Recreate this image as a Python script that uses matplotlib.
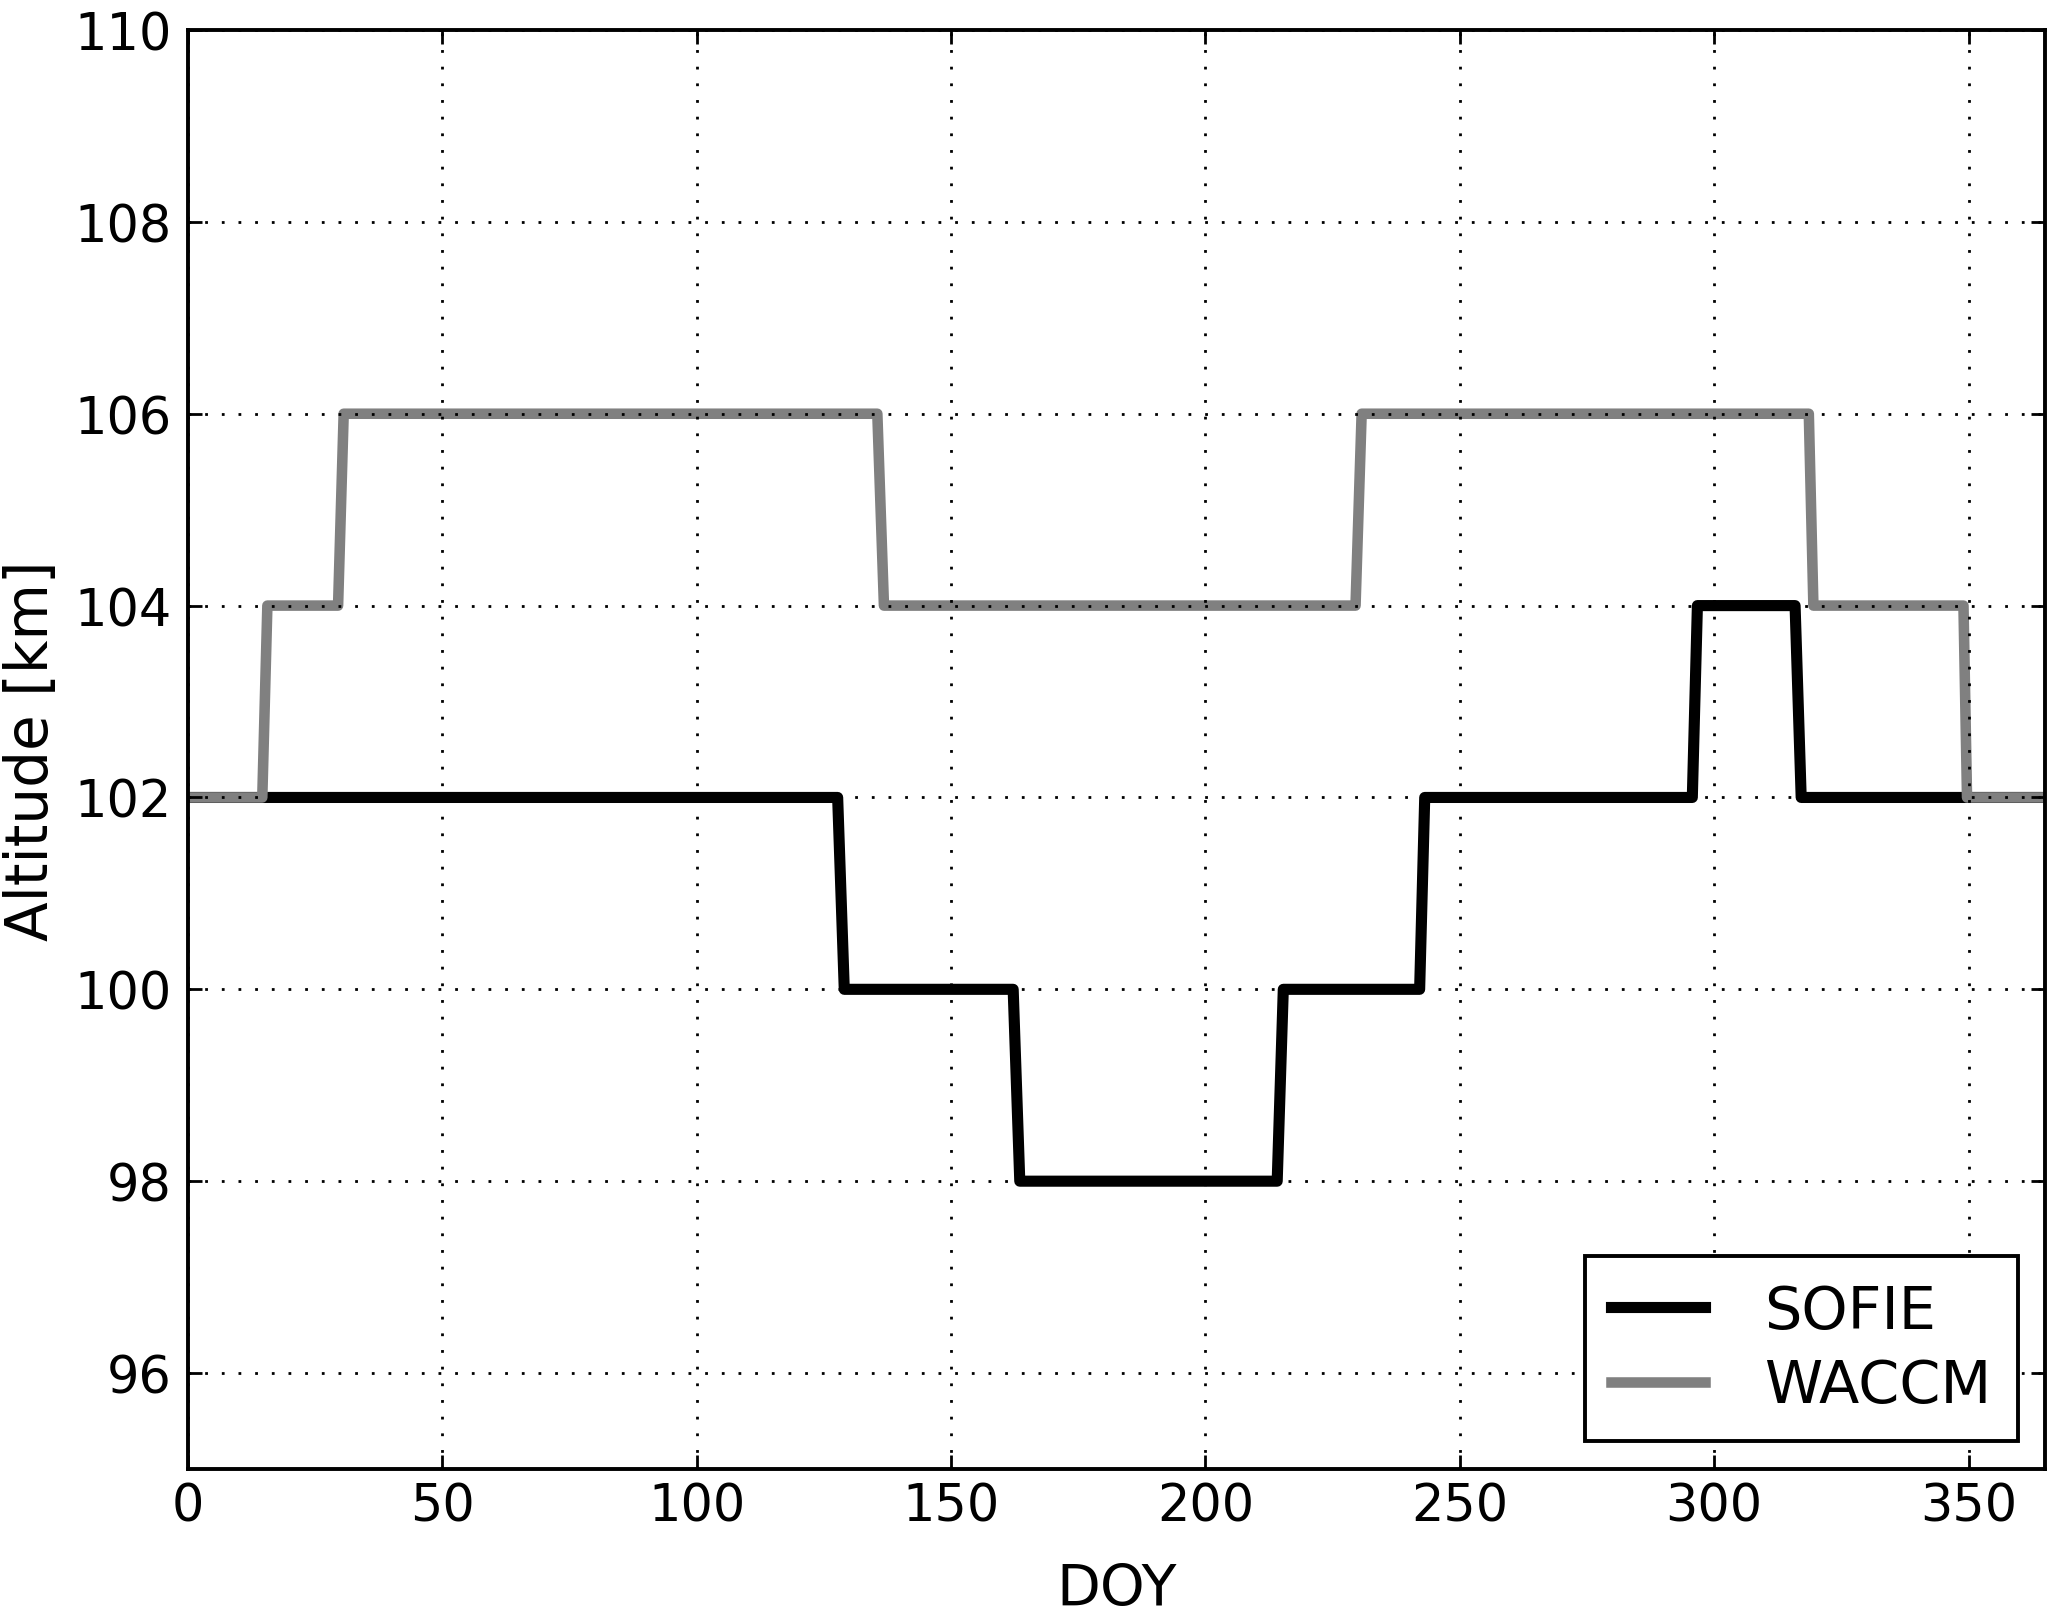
import matplotlib
matplotlib.use("Agg")
import matplotlib.pyplot as plt

# step profiles (DOY, altitude in km)
sofie_doy = [0, 127.7, 129.0, 162.2, 163.5, 214.1, 215.3, 242.1, 243.1,
             295.7, 296.7, 315.9, 317.1, 365]
sofie_alt = [102, 102, 100, 100, 98, 98, 100, 100, 102, 102, 104, 104, 102, 102]

waccm_doy = [0, 14.6, 15.6, 29.5, 30.6, 135.5, 136.8, 229.5, 230.7,
             318.6, 319.5, 349.0, 349.7, 365]
waccm_alt = [102, 102, 104, 104, 106, 106, 104, 104, 106, 106, 104, 104, 102, 102]

x_ticks = [0, 50, 100, 150, 200, 250, 300, 350]
y_ticks = [96, 98, 100, 102, 104, 106, 108, 110]

fig = plt.figure(figsize=(10.285, 8.075), dpi=200)
ax = fig.add_axes([0.0914, 0.0898, 0.9027, 0.8910])

ax.plot(sofie_doy, sofie_alt, color='k', lw=4.0, label='SOFIE',
        solid_joinstyle='round')
ax.plot(waccm_doy, waccm_alt, color='0.5', lw=3.8, label='WACCM',
        solid_joinstyle='round')

ax.set_xlim(0, 365)
ax.set_ylim(95, 110)
ax.set_xticks(x_ticks)
ax.set_yticks(y_ticks)

ax.set_axisbelow(False)
ax.grid(True, color='k', lw=1.0, linestyle=(0, (1, 5)))

for s in ax.spines.values():
    s.set_linewidth(1.4)
ax.tick_params(direction='in', top=True, right=True, length=5, width=1.0,
               labelsize=18.3)
ax.tick_params(axis='x', pad=4.5)
ax.tick_params(axis='y', pad=6)

ax.set_xlabel('DOY', fontsize=20.5, labelpad=11)
ax.set_ylabel('Altitude [km]', fontsize=20.9, labelpad=5)

leg = ax.legend(loc='lower right', bbox_to_anchor=(0.9855, 0.0195),
                borderaxespad=0, fontsize=21.2, fancybox=False,
                edgecolor='k', framealpha=1, handlelength=1.6,
                handletextpad=1.0, borderpad=0.45, labelspacing=0.3)
leg.get_frame().set_linewidth(1.4)

fig.savefig('out.png', dpi=200)
